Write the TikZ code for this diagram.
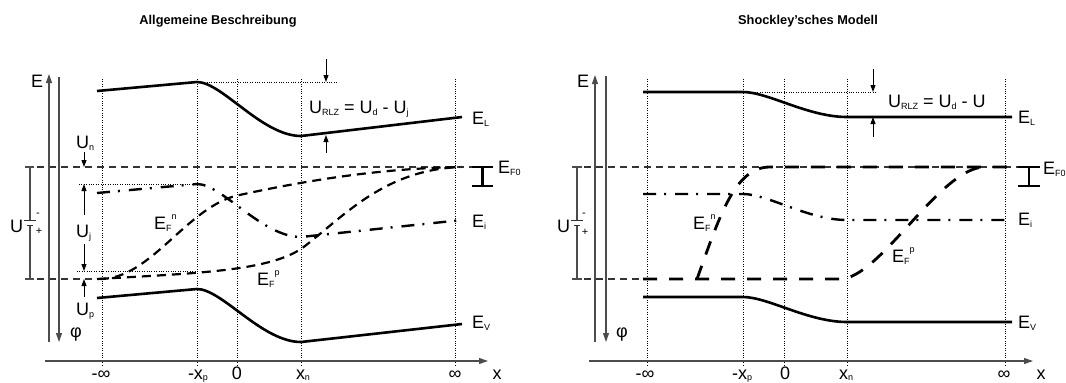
\documentclass[tikz,border=0pt]{standalone}
\usepackage{fontspec}
\setmainfont{Liberation Sans}
\usetikzlibrary{arrows.meta}
\newcommand{\lo}[1]{\raisebox{-2.5pt}{\fontsize{9}{9}\selectfont #1}}
\newcommand{\lob}[1]{\raisebox{-1pt}{\fontsize{9}{9}\selectfont #1}}
\newcommand{\hi}[1]{\raisebox{10pt}{\fontsize{9}{9}\selectfont #1}}
\begin{document}
\begin{tikzpicture}[x=1pt,y=-1pt,
  lbl/.style={inner sep=0pt, font=\fontsize{18}{20}\selectfont, anchor=base west},
  blbl/.style={inner sep=0pt, font=\fontsize{18}{20}\selectfont, anchor=base},
  sgn/.style={inner sep=0pt, font=\fontsize{11}{12}\selectfont},
  ttl/.style={inner sep=0pt, font=\fontsize{12.8}{15}\selectfont\bfseries, anchor=base},
  band/.style={line width=2.6pt, line join=round},
  fermi/.style={line width=2.2pt, dash pattern=on 9pt off 6pt},
  fermiR/.style={line width=2.8pt, dash pattern=on 14pt off 12pt},
  intr/.style={line width=2.4pt, dash pattern=on 13pt off 8pt on 2pt off 9pt},
  refl/.style={line width=1.1pt, black!80, dash pattern=on 7pt off 5pt},
  guide/.style={line width=0.8pt, dash pattern=on 1pt off 1.4pt},
  axis/.style={line width=1.1pt, black!70},
  axarr/.style={axis, -{Triangle[length=9pt,width=6pt]}},
  sarr/.style={line width=0.9pt, -{Triangle[length=7pt,width=5pt]}},
  ibar/.style={line width=2.2pt},
  plate/.style={line width=1.3pt, black!80}
]
\useasboundingbox (0,0) rectangle (1066,383);

% ================= titles
\node[ttl] (t1) at (218,24) {Allgemeine Beschreibung};
\node[ttl] (t2) at (808,24) {Shockley’sches Modell};

% ================= LEFT PANEL
\foreach \xx in {102,197,237,301,455} \draw[guide] (\xx,79) -- (\xx,366);
\draw[refl] (25,167) -- (472,167);
\draw[refl] (25,279) -- (97,279);
% battery
\draw[axis] (30,167) -- (30,220.5) (30,225.5) -- (30,279);
\draw[axis] (25,167) -- (34,167) (25,279) -- (34,279);
\draw[plate] (24,220.5) -- (36,220.5) (27,225.5) -- (33,225.5);
\node[lbl] (lU) at (10,232) {U};
\node[sgn] (lminus) at (38,215) {-};
\node[sgn] (lplus) at (39,231) {+};
% axes
\draw[axarr] (49,342) -- (49,74);
\draw[axarr] (59,77) -- (59,342);
\draw[axarr] (45,361) -- (488,361);
\node[lbl] (lE) at (31,87) {E};
\node[inner sep=0pt, font=\fontsize{18}{20}\selectfont] (lphi) at (76,335) {φ};
% U_RLZ
\draw[guide] (197,82) -- (337,82);
\draw[sarr] (326,59) -- (326,82);
\draw[sarr] (326,153) -- (326,135);
\node[lbl] (lURLZ) at (309,113) {U\lo{RLZ} = U\lo{d} - U\lo{j}};
% U_n, U_j, U_p
\draw[sarr] (84,152) -- (84,167);
\draw[guide] (79,184) -- (197,184);
\draw[guide] (77,271) -- (197,271);
\draw[sarr] (84,215) -- (84,184);
\draw[sarr] (84,244) -- (84,271);
\draw[sarr] (84,297) -- (84,279);
\node[lbl] (lUn) at (76,148) {U\lo{n}};
\node[lbl] (lUj) at (76,237) {U\lo{j}};
\node[lbl] (lUp) at (76,315) {U\lo{p}};
% curves
\draw[band] (97,91) -- (197,82) .. controls (222,82) and (262,136) .. (301,136) -- (462,117);
\draw[band] (97,298) -- (197,289) .. controls (222,289) and (262,342) .. (301,342) -- (462,324);
\draw[intr] (97,193) -- (197,184) .. controls (222,184) and (262,237) .. (301,237) -- (462,220);
\draw[fermi] (100,279) .. controls (150,279) and (185,210) .. (235,196) .. controls (330,175) and (400,168) .. (462,167);
\draw[fermi] (97,279) .. controls (200,273) and (273,271) .. (305,246) .. controls (345,215) and (385,170) .. (460,167);
\draw[ibar] (472,167) -- (493,167) (482.5,167) -- (482.5,186) (472,186) -- (493,186);
% labels
\node[lbl] (lEL) at (472,124) {E\lo{L}};
\node[lbl] (lEF0) at (498,173) {E\lo{F0}};
\node[lbl] (lEi) at (472,227) {E\lo{i}};
\node[lbl] (lEV) at (472,328) {E\lo{V}};
\node[lbl] (lEFn) at (154,229) {E\lo{F}\hi{n}};
\node[lbl] (lEFp) at (257,285) {E\lo{F}\hi{p}};
% x labels
\node[blbl] (lxa) at (101,379) {-∞};
\node[blbl] (lxb) at (198,379) {-x\lob{p}};
\node[blbl] (lxc) at (237,379) {0};
\node[blbl] (lxd) at (303,379) {x\lob{n}};
\node[blbl] (lxe) at (455,379) {∞};
\node[blbl] (lxf) at (497,379) {x};

% ================= RIGHT PANEL
\foreach \xx in {647,743,784,847,1005} \draw[guide] (\xx,79) -- (\xx,366);
\draw[refl] (572,167) -- (1018,167);
\draw[refl] (572,279) -- (643,279);
% battery
\draw[axis] (577,167) -- (577,220.5) (577,225.5) -- (577,279);
\draw[axis] (572,167) -- (582,167) (572,279) -- (582,279);
\draw[plate] (571,220.5) -- (583,220.5) (574,225.5) -- (580,225.5);
\node[lbl] (rU) at (557,232) {U};
\node[sgn] (rminus) at (584,215) {-};
\node[sgn] (rplus) at (585,232) {+};
% axes
\draw[axarr] (595,342) -- (595,75);
\draw[axarr] (606,76) -- (606,342);
\draw[axarr] (589,361) -- (1033,361);
\node[lbl] (rE) at (577,87) {E};
\node[inner sep=0pt, font=\fontsize{18}{20}\selectfont] (rphi) at (622,335) {φ};
% U_RLZ
\draw[guide] (743,92) -- (877,92);
\draw[sarr] (873,69) -- (873,92);
\draw[sarr] (873,137) -- (873,117);
\node[lbl] (rURLZ) at (888,107) {U\lo{RLZ} = U\lo{d} - U};
% curves
\draw[band] (643,92) -- (743,92) .. controls (768,92) and (808,117) .. (847,117) -- (1012,117);
\draw[band] (643,297) -- (743,297) .. controls (768,297) and (808,322) .. (847,322) -- (1012,322);
\draw[intr] (643,194) -- (743,194) .. controls (768,194) and (808,220) .. (847,220) -- (1012,220);
\draw[fermiR] (697,279) .. controls (720,215) and (735,167) .. (770,167) -- (1012,167);
\draw[fermiR] (643,279) -- (840,279) .. controls (880,279) and (940,167) .. (985,167);
\draw[ibar] (1018,167) -- (1040,167) (1029,167) -- (1029,186) (1018,186) -- (1040,186);
% labels
\node[lbl] (rEL) at (1018,123) {E\lo{L}};
\node[lbl] (rEF0) at (1043,174) {E\lo{F0}};
\node[lbl] (rEi) at (1018,225) {E\lo{i}};
\node[lbl] (rEV) at (1018,328) {E\lo{V}};
\node[lbl] (rEFn) at (693,229) {E\lo{F}\hi{n}};
\node[lbl] (rEFp) at (892,262) {E\lo{F}\hi{p}};
% x labels
\node[blbl] (rxa) at (645,379) {-∞};
\node[blbl] (rxb) at (742,379) {-x\lob{p}};
\node[blbl] (rxc) at (785,379) {0};
\node[blbl] (rxd) at (846,379) {x\lob{n}};
\node[blbl] (rxe) at (1004,379) {∞};
\node[blbl] (rxf) at (1041,379) {x};
\end{tikzpicture}
\end{document}
